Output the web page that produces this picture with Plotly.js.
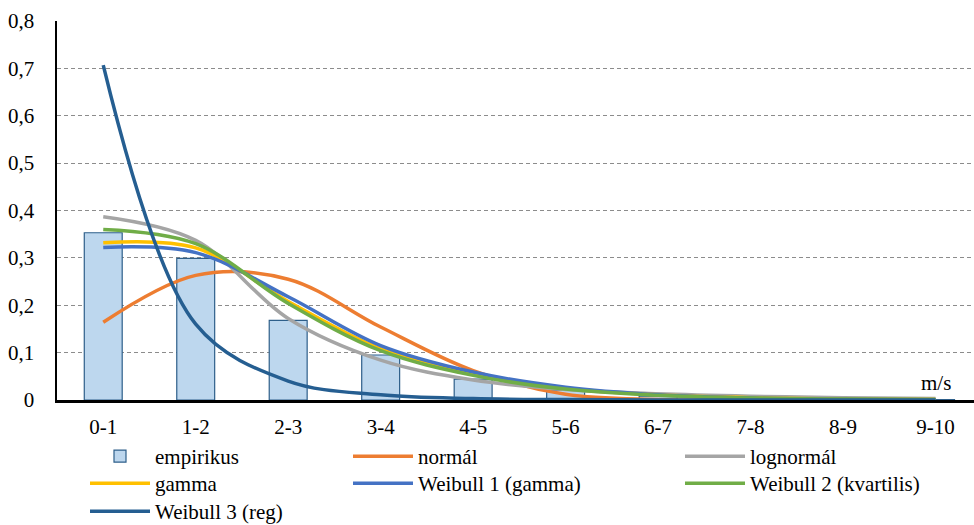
<!DOCTYPE html>
<html>
<head>
<meta charset="utf-8">
<script src="https://cdn.plot.ly/plotly-3.0.1.min.js"></script>
<style>html,body{margin:0;padding:0;background:#fff;}#chart{width:974px;height:525px;}</style>
</head>
<body>
<div id="chart"></div>
<script>
const categories = ["0-1","1-2","2-3","3-4","4-5","5-6","6-7","7-8","8-9","9-10"];
const empirikus = [0.353, 0.299, 0.168, 0.095, 0.044, 0.021, 0.008, 0.004, 0.002, 0.001];
const normal    = [0.164, 0.263, 0.255, 0.154, 0.062, 0.012, 0.001, 0, 0, 0];
const lognormal = [0.387, 0.337, 0.172, 0.084, 0.042, 0.022, 0.013, 0.008, 0.005, 0.003];
const gamma     = [0.332, 0.321, 0.208, 0.108, 0.055, 0.025, 0.011, 0.005, 0.002, 0.001];
const weibull1  = [0.322, 0.311, 0.218, 0.115, 0.059, 0.027, 0.011, 0.004, 0.0015, 0.0005];
const weibull2  = [0.360, 0.330, 0.204, 0.104, 0.052, 0.023, 0.010, 0.004, 0.002, 0.001];
const weibull3  = [0.707, 0.160, 0.040, 0.011, 0.003, 0.001, 0, 0, 0, 0];
const yTickVals = [0, 0.1, 0.2, 0.3, 0.4, 0.5, 0.6, 0.7, 0.8];
const yTickText = ["0", "0,1", "0,2", "0,3", "0,4", "0,5", "0,6", "0,7", "0,8"];
const names = ["empirikus","normál","lognormál","gamma","Weibull 1 (gamma)","Weibull 2 (kvartilis)","Weibull 3 (reg)"];

const FONT = "Times New Roman";
const FS = 21;
function line(y, name, color, legend) {
  return {type:"scatter", mode:"lines", x:categories, y:y, name:name, legend:legend,
          line:{color:color, width:3.5, shape:"spline", smoothing:1}, hoverinfo:"skip"};
}
const traces = [
  {type:"bar", x:categories, y:empirikus, name:names[0], legend:"legend", width:0.41,
   marker:{color:"#BDD7EE", line:{color:"#2E5F8A", width:1.2}}, hoverinfo:"skip"},
  line(normal, names[1], "#ED7D31", "legend2"),
  line(lognormal, names[2], "#A5A5A5", "legend3"),
  line(gamma, names[3], "#FFC000", "legend4"),
  line(weibull1, names[4], "#4472C4", "legend5"),
  line(weibull2, names[5], "#70AD47", "legend6"),
  line(weibull3, names[6], "#255E91", "legend7")
];
const W = 917, H = 379;
function lg(px, py) {
  return {x:(px-57)/W, y:(400-py)/H, xanchor:"left", yanchor:"top", orientation:"v",
          font:{family:FONT, size:FS, color:"#000"}, bgcolor:"rgba(0,0,0,0)",
          itemwidth:60};
}
const layout = {
  width:974, height:525,
  margin:{l:57, r:0, t:21, b:125, autoexpand:false},
  paper_bgcolor:"#fff", plot_bgcolor:"#fff",
  font:{family:FONT, size:FS, color:"#000"},
  showlegend:true,
  barmode:"overlay",
  xaxis:{type:"category", categoryorder:"array", categoryarray:categories,
         range:[-0.5, 9.416], showgrid:false, zeroline:false,
         showline:true, linecolor:"#000", linewidth:2.5, ticks:"", ticklabelstandoff:6,
         tickfont:{family:FONT, size:FS, color:"#000"}, fixedrange:true},
  yaxis:{range:[0, 0.8], tickvals:yTickVals, ticktext:yTickText,
         showgrid:true, gridcolor:"#8c8c8c", gridwidth:1, griddash:"4px,3px",
         zeroline:false, showline:true, linecolor:"#000", linewidth:2.5, ticks:"",
         ticklabelstandoff:16, tickfont:{family:FONT, size:FS, color:"#000"}, fixedrange:true},
  legend:  lg(85, 436),
  legend2: lg(348, 436),
  legend3: lg(680, 436),
  legend4: lg(85, 463),
  legend5: lg(348, 463),
  legend6: lg(680, 463),
  legend7: lg(85, 491),
  annotations:[{xref:"x", yref:"y", x:"9-10", y:0.036, text:"m/s", showarrow:false,
                xanchor:"center", yanchor:"middle", font:{family:FONT, size:FS, color:"#000"}}]
};
Plotly.newPlot("chart", traces, layout, {staticPlot:true, displayModeBar:false});
</script>
</body>
</html>
